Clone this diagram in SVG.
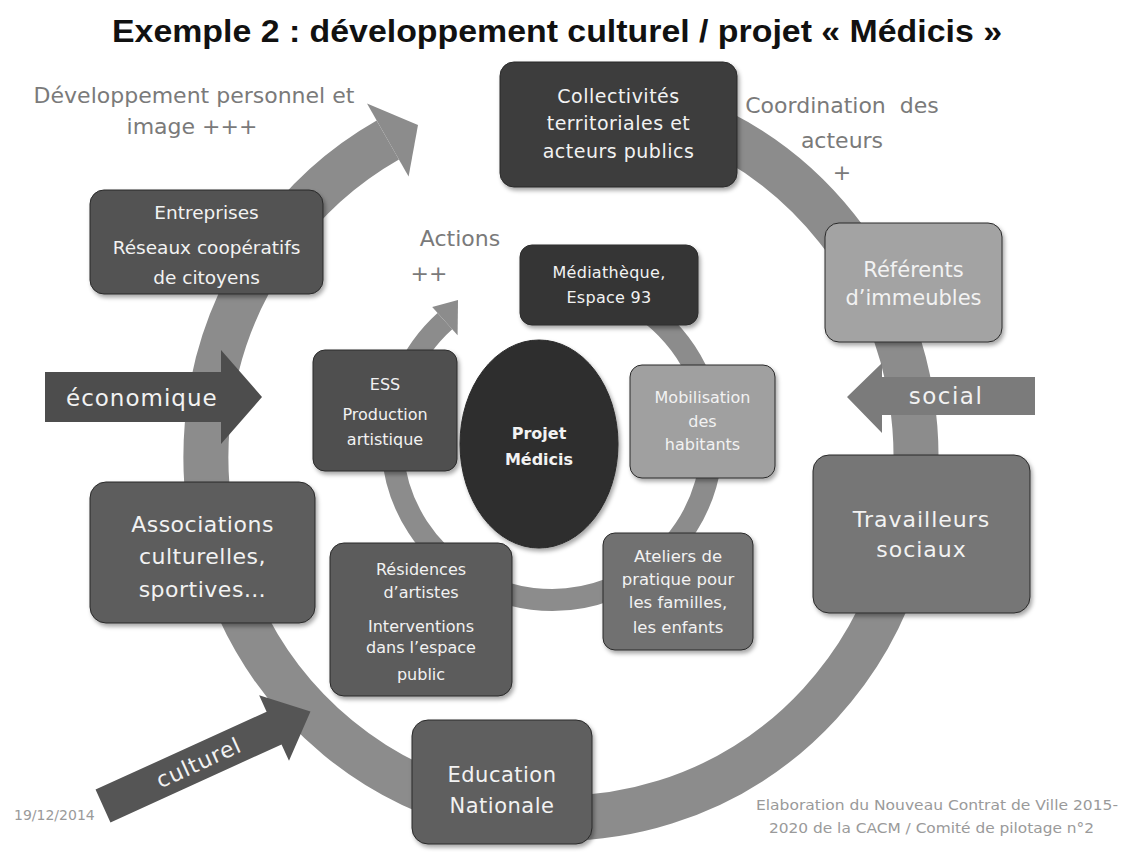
<svg xmlns="http://www.w3.org/2000/svg" width="1129" height="852" viewBox="0 0 1129 852">
<defs>
<filter id="sh" x="-10%" y="-10%" width="125%" height="125%">
<feDropShadow dx="2" dy="3" stdDeviation="2" flood-color="#000" flood-opacity="0.35"/>
</filter>
<style>
.t{font-family:"DejaVu Sans","Liberation Sans",sans-serif;fill:#f2f2f2;text-anchor:middle}
.ts{font-family:"DejaVu Sans","Liberation Sans",sans-serif;fill:#f2f2f2;text-anchor:start}
.g{font-family:"DejaVu Sans","Liberation Sans",sans-serif;fill:#7a7a7a;text-anchor:middle;font-size:22px}
.f{font-family:"DejaVu Sans","Liberation Sans",sans-serif;fill:#9a9a9a;font-size:14px}
.box{filter:url(#sh);stroke:#2a2a2a;stroke-width:1}
.ring{fill:none;stroke:#8c8c8c}
.head{fill:#8c8c8c}
</style>
</defs>
<rect width="1129" height="852" fill="#ffffff"/>
<text x="557" y="42" font-family="Liberation Sans, Arial, sans-serif" font-weight="bold" font-size="31" fill="#111" text-anchor="middle" textLength="890" lengthAdjust="spacingAndGlyphs">Exemple 2 : développement culturel / projet « Médicis »</text>

<g id="connectors">
<path class="ring" stroke-width="45" d="M 530.1 95.4 A 355 362 0 1 1 387.8 140"/>
<polygon class="head" points="367,103.5 418,125 408.6,176.5"/>
<path class="ring" stroke-width="22" d="M 552 280 A 160 160 0 1 1 444.9 321.1"/>
<polygon class="head" points="432.2,307 458,300 457.6,335.2"/>
</g>

<g id="label-developpement">
<text class="g" x="194" y="103">Développement personnel et</text>
<text class="g" x="192" y="134">image +++</text>
</g>
<g id="label-coordination">
<text class="g" x="842" y="113" xml:space="preserve">Coordination  des</text>
<text class="g" x="842" y="148">acteurs</text>
<text class="g" x="842" y="180" font-size="18">+</text>
</g>
<g id="label-actions">
<text class="g" x="460" y="246">Actions</text>
<text class="g" x="429" y="281" font-size="16">++</text>
</g>

<g id="arrow-economique">
<polygon fill="#4d4d4d" points="45,372 221,372 221,350 262,397 221,444 221,422 45,422"/>
<text class="ts" x="66" y="406" font-size="23" letter-spacing="1">économique</text>
</g>
<g id="arrow-social">
<polygon fill="#7b7b7b" points="1035,377 882,377 882,363 847,397 882,433 882,415 1035,415"/>
<text class="t" x="946" y="404" font-size="23" letter-spacing="1.5">social</text>
</g>
<g id="arrow-culturel" transform="translate(103,806) rotate(-24.5)">
<polygon fill="#555555" points="0,-18 188,-18 188,-36 228,0 188,36 188,18 0,18"/>
<text class="t" x="105" y="8" font-size="22" letter-spacing="1">culturel</text>
</g>

<g id="node-collectivites">
<rect class="box" x="500" y="62" width="237" height="125" rx="14" fill="#3d3d3d"/>
<text class="t" font-size="19" letter-spacing="0.5"><tspan x="618.5" y="103">Collectivités</tspan><tspan x="618.5" y="130">territoriales et</tspan><tspan x="618.5" y="158">acteurs publics</tspan></text>
</g>
<g id="node-entreprises">
<rect class="box" x="90" y="190" width="233" height="104" rx="14" fill="#525252"/>
<text class="t" font-size="18.5"><tspan x="206.5" y="219">Entreprises</tspan><tspan x="206.5" y="254">Réseaux coopératifs</tspan><tspan x="206.5" y="284">de citoyens</tspan></text>
</g>
<g id="node-referents">
<rect class="box" x="825" y="223" width="177" height="119" rx="14" fill="#a3a3a3"/>
<text class="t" font-size="21"><tspan x="913.5" y="277">Référents</tspan><tspan x="913.5" y="305">d’immeubles</tspan></text>
</g>
<g id="node-travailleurs">
<rect class="box" x="813" y="455" width="217" height="158" rx="16" fill="#767676"/>
<text class="t" font-size="22" letter-spacing="1"><tspan x="921.5" y="527">Travailleurs</tspan><tspan x="921.5" y="557">sociaux</tspan></text>
</g>
<g id="node-associations">
<rect class="box" x="90" y="482" width="225" height="141" rx="16" fill="#5d5d5d"/>
<text class="t" font-size="22" letter-spacing="0.5"><tspan x="202.5" y="532">Associations</tspan><tspan x="202.5" y="564">culturelles,</tspan><tspan x="202.5" y="597">sportives…</tspan></text>
</g>
<g id="node-education">
<rect class="box" x="412" y="720" width="180" height="124" rx="16" fill="#5e5e5e"/>
<text class="t" font-size="21" letter-spacing="0.5"><tspan x="502" y="782">Education</tspan><tspan x="502" y="813">Nationale</tspan></text>
</g>

<g id="node-mediatheque">
<rect class="box" x="520" y="245" width="178" height="80" rx="12" fill="#363636"/>
<text class="t" font-size="16" letter-spacing="0.3"><tspan x="609" y="278">Médiathèque,</tspan><tspan x="609" y="303">Espace 93</tspan></text>
</g>
<g id="node-ess">
<rect class="box" x="313" y="350" width="144" height="121" rx="12" fill="#4f4f4f"/>
<text class="t" font-size="16"><tspan x="385" y="390">ESS</tspan><tspan x="385" y="420">Production</tspan><tspan x="385" y="445">artistique</tspan></text>
</g>
<g id="node-projet">
<ellipse class="box" cx="539" cy="444" rx="79" ry="104" fill="#2d2d2d"/>
<text class="t" font-size="16" font-weight="bold"><tspan x="539" y="439">Projet</tspan><tspan x="539" y="465">Médicis</tspan></text>
</g>
<g id="node-mobilisation">
<rect class="box" x="630" y="365" width="145" height="113" rx="12" fill="#a0a0a0"/>
<text class="t" font-size="16"><tspan x="702.5" y="403">Mobilisation</tspan><tspan x="702.5" y="427">des</tspan><tspan x="702.5" y="450">habitants</tspan></text>
</g>
<g id="node-ateliers">
<rect class="box" x="603" y="533" width="150" height="117" rx="12" fill="#717171"/>
<text class="t" font-size="16.5"><tspan x="678" y="562">Ateliers de</tspan><tspan x="678" y="585">pratique pour</tspan><tspan x="678" y="608">les familles,</tspan><tspan x="678" y="633">les enfants</tspan></text>
</g>
<g id="node-residences">
<rect class="box" x="330" y="543" width="182" height="153" rx="14" fill="#5b5b5b"/>
<text class="t" font-size="16"><tspan x="421" y="575">Résidences</tspan><tspan x="421" y="598">d’artistes</tspan><tspan x="421" y="632">Interventions</tspan><tspan x="421" y="653">dans l’espace</tspan><tspan x="421" y="680">public</tspan></text>
</g>

<g id="footer">
<text class="f" x="14" y="820" font-size="11" fill="#8a8a8a">19/12/2014</text>
<text class="f" x="756" y="810" textLength="362" lengthAdjust="spacingAndGlyphs">Elaboration du Nouveau Contrat de Ville 2015-</text>
<text class="f" x="769" y="833" textLength="325" lengthAdjust="spacingAndGlyphs">2020 de la CACM / Comité de pilotage n°2</text>
</g>
</svg>
